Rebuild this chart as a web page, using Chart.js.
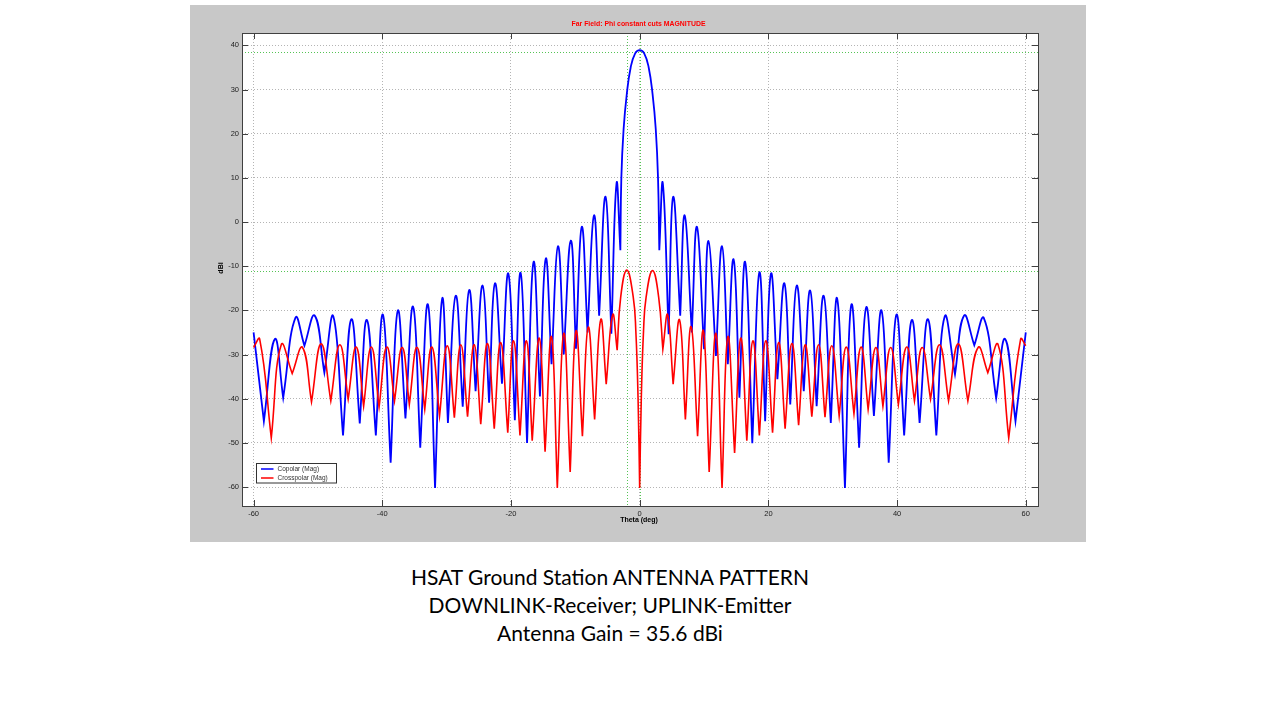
<!DOCTYPE html>
<html>
<head>
<meta charset="utf-8">
<script src="https://cdn.jsdelivr.net/npm/chart.js@4.4.1/dist/chart.umd.min.js"></script>
<style>
  html, body { margin: 0; padding: 0; background: #fff; width: 1280px; height: 720px; overflow: hidden; }
  #marco { position: absolute; left: 190px; top: 5px; width: 896px; height: 537px; background: #c8c8c8; }
  #grafico { display: block; }
  .leyenda { position: absolute; left: 310px; width: 600px; top: 563px; text-align: center;
             font-family: Lato, 'Open Sans', sans-serif; font-size: 21px; line-height: 28px; color: #000; }
</style>
</head>
<body>
<div id="marco"><canvas id="grafico" width="896" height="537"></canvas></div>
<div class="leyenda">HSAT Ground Station ANTENNA PATTERN<br>DOWNLINK-Receiver; UPLINK-Emitter<br>Antenna Gain = 35.6 dBi</div>
<script>
// Copolar: ángulos (deg) y ganancia (dBi) (picos y nulos)
const copTheta = [
  -60, -58.4, -56.7, -55.4, -53.5, -52.1, -50.5, -49.0, -47.6, -46.1,
  -44.8, -43.5, -42.4, -41.0, -39.9, -38.7, -37.6, -36.4, -35.2, -34.1,
  -32.9, -31.8, -30.7, -29.8, -28.6, -27.5, -26.5, -25.5, -24.4, -23.4,
  -22.5, -21.4, -20.4, -19.4, -18.5, -17.5, -16.5, -15.5, -14.6, -13.7,
  -12.7, -11.8, -10.7, -9.9, -9.0, -8.1, -7.1, -6.3, -5.3, -4.4,
  -3.6, -3.0, -2.85, -2.5, -2.0, -1.4, -0.7, 0, 0.7, 1.4,
  2.0, 2.5, 2.85, 3.05, 3.6, 4.5, 5.2, 6.3, 7.0, 8.1,
  8.9, 10.0, 10.7, 11.85, 12.8, 13.7, 14.6, 15.5, 16.4, 17.5,
  18.6, 19.5, 20.4, 21.4, 22.5, 23.4, 24.4, 25.5, 26.5, 27.5,
  28.6, 29.7, 30.7, 31.9, 32.9, 34.1, 35.2, 36.4, 37.6, 38.7,
  39.9, 41.1, 42.3, 43.5, 44.8, 46.1, 47.4, 49.0, 50.4, 52.0,
  53.5, 55.4, 56.8, 58.4, 60
];
const copGain = [
  -25.0, -45.1, -26.5, -39.8, -21.7, -28.0, -21.2, -34.1, -21.4, -48.3,
  -22.0, -45.6, -22.2, -48.3, -21.0, -54.5, -20.1, -44.5, -19.2, -51.1,
  -18.7, -60.2, -17.4, -45.5, -16.7, -41.8, -15.4, -38.3, -14.4, -40.9,
  -13.9, -36.6, -11.7, -44.9, -11.5, -50.0, -9.1, -39.5, -8.3, -32.2,
  -5.5, -30.0, -4.2, -28.7, -1.1, -25.0, 1.5, -21.2, 5.7, -25.3,
  8.7, -6.4, 10.0, 21.0, 29.0, 35.0, 38.2, 38.9, 38.2, 35.0,
  29.0, 21.0, 10.0, -6.4, 8.7, -25.4, 5.7, -21.2, 1.5, -25.0,
  -1.1, -28.8, -4.3, -30.3, -5.5, -32.2, -8.5, -39.8, -9.1, -50.1,
  -11.4, -45.1, -11.7, -35.6, -13.9, -41.3, -14.4, -38.3, -15.5, -41.7,
  -16.7, -45.5, -17.4, -60.2, -18.7, -51.1, -19.3, -43.9, -20.1, -54.5,
  -21.0, -48.3, -22.2, -45.5, -22.0, -48.3, -21.4, -34.5, -21.2, -27.9,
  -21.8, -39.9, -26.5, -45.1, -25.0
];

// Crosspolar
const xpolTheta = [
  -60, -59.05, -57.25, -55.7, -54.0, -52.4, -51.0, -49.5, -48.0, -46.6,
  -45.3, -44.05, -42.9, -41.7, -40.5, -39.3, -38.1, -36.9, -35.8, -34.6,
  -33.4, -32.3, -31.1, -29.9, -28.8, -27.8, -26.75, -25.7, -24.7, -23.65,
  -22.6, -21.6, -20.5, -19.6, -18.6, -17.6, -16.7, -15.6, -14.7, -13.7,
  -12.8, -11.8, -10.8, -9.9, -8.9, -8.0, -7.0, -6.05, -5.2, -4.2,
  -3.5, -2.95, -2.0, -1.0, -0.6, -0.25, 0, 0.25, 0.6, 1.0,
  2.0, 2.95, 3.6, 4.35, 5.2, 6.2, 7.1, 8.0, 9.0, 9.9,
  10.8, 11.85, 12.8, 13.7, 14.75, 15.7, 16.65, 17.6, 18.6, 19.6,
  20.65, 21.6, 22.6, 23.65, 24.7, 25.7, 26.75, 27.8, 28.8, 29.85,
  31.0, 32.1, 33.3, 34.4, 35.5, 36.7, 37.8, 39.0, 40.2, 41.5,
  42.7, 43.9, 45.2, 46.6, 48.0, 49.5, 51.0, 52.6, 54.1, 55.7,
  57.35, 59.2, 60
];
const xpolGain = [
  -28.4, -26.5, -48.9, -27.8, -34.3, -28.4, -40.7, -27.6, -40.5, -27.8,
  -40.1, -28.3, -41.7, -28.3, -41.9, -28.3, -40.5, -28.4, -41.3, -28.4,
  -42.4, -28.3, -43.9, -28.0, -44.3, -27.8, -44.1, -27.8, -45.8, -27.5,
  -46.8, -27.3, -47.7, -26.9, -48.3, -26.9, -49.5, -26.3, -52.0, -26.0,
  -60.2, -25.2, -56.6, -24.7, -48.5, -23.8, -44.7, -22.1, -36.7, -21.0,
  -29.0, -17.0, -10.9, -17.0, -24.6, -40.0, -60.2, -40.0, -24.6, -17.0,
  -11.0, -17.0, -28.8, -21.0, -36.7, -22.2, -44.7, -23.7, -48.5, -24.6,
  -56.6, -25.2, -60.2, -26.0, -52.3, -26.3, -49.5, -26.9, -48.3, -26.9,
  -47.7, -27.3, -46.8, -27.5, -46.0, -27.8, -44.1, -27.8, -44.2, -28.0,
  -43.9, -28.3, -43.4, -28.3, -42.4, -28.4, -41.7, -28.4, -41.3, -28.3,
  -40.5, -28.4, -40.1, -27.8, -40.5, -27.6, -40.5, -28.4, -34.1, -27.8,
  -48.9, -26.5, -28.0
];

const ticksTheta = [-60, -40, -20, 0, 20, 40, 60];
const ticksGain = [-60, -50, -40, -30, -20, -10, 0, 10, 20, 30, 40];
// líneas verdes de marcadores
const marcaGain = [38.5, -11];
const marcaTheta = [-1.9, 0];

const titulo = 'Far Field: Phi constant cuts MAGNITUDE';
const nombres = ['Copolar (Mag)', 'Crosspolar (Mag)'];

// los nulos se repiten para que la curva termine en punta y no redondeada
function armarPuntos(thetas, ganancias) {
    const puntos = [];
    thetas.forEach((t, i) => {
        puntos.push({ x: t, y: ganancias[i] });
        const antes = ganancias[i - 1];
        const despues = ganancias[i + 1];
        if (antes !== undefined && despues !== undefined && ganancias[i] < antes && ganancias[i] < despues) {
            puntos.push({ x: t, y: ganancias[i] });
        }
    });
    return puntos;
}

const estiloMatlab = {
    id: 'estiloMatlab',
    beforeDraw(chart) {
        const { ctx, chartArea: a } = chart;
        ctx.save();
        ctx.fillStyle = '#ffffff';
        ctx.fillRect(a.left, a.top, a.right - a.left, a.bottom - a.top);
        ctx.restore();
    },
    beforeDatasetsDraw(chart) {
        const { ctx, chartArea: a, scales: { x, y } } = chart;
        ctx.save();
        ctx.strokeStyle = '#55c455';
        ctx.lineWidth = 1;
        ctx.setLineDash([1, 2]);
        marcaGain.forEach(v => {
            const py = Math.round(y.getPixelForValue(v)) + 0.5;
            ctx.beginPath(); ctx.moveTo(a.left, py); ctx.lineTo(a.right, py); ctx.stroke();
        });
        marcaTheta.forEach(v => {
            const px = Math.round(x.getPixelForValue(v)) + 0.5;
            ctx.beginPath(); ctx.moveTo(px, a.top); ctx.lineTo(px, a.bottom); ctx.stroke();
        });
        ctx.restore();
    },
    afterDraw(chart) {
        const { ctx, chartArea: a, scales: { x, y } } = chart;
        ctx.save();
        // marco de los ejes
        ctx.strokeStyle = '#404040';
        ctx.lineWidth = 1;
        ctx.strokeRect(Math.round(a.left) + 0.5, Math.round(a.top) + 0.5, Math.round(a.right - a.left), Math.round(a.bottom - a.top));
        // marcas hacia adentro
        ticksTheta.forEach(v => {
            const px = Math.round(x.getPixelForValue(v)) + 0.5;
            ctx.beginPath();
            ctx.moveTo(px, a.top); ctx.lineTo(px, a.top + 6);
            ctx.moveTo(px, a.bottom); ctx.lineTo(px, a.bottom - 6);
            ctx.stroke();
        });
        ticksGain.forEach(v => {
            const py = Math.round(y.getPixelForValue(v)) + 0.5;
            ctx.beginPath();
            ctx.moveTo(a.left, py); ctx.lineTo(a.left + 6, py);
            ctx.moveTo(a.right, py); ctx.lineTo(a.right - 6, py);
            ctx.stroke();
        });

        // título
        ctx.fillStyle = '#ff0000';
        ctx.font = 'bold 6.9px "Liberation Sans", Arial, sans-serif';
        ctx.textAlign = 'center';
        ctx.textBaseline = 'middle';
        ctx.fillText(titulo, 448.5, 19);

        // etiquetas de ejes
        ctx.fillStyle = '#000000';
        ctx.font = 'bold 7px "Liberation Sans", Arial, sans-serif';
        ctx.fillText('Theta (deg)', 449, 515);
        ctx.save();
        ctx.translate(31.5, 263);
        ctx.rotate(-Math.PI / 2);
        ctx.fillText('dBi', 0, 0);
        ctx.restore();

        // leyenda
        const lx = a.left + 14.5, ly = a.bottom - 42.5;
        ctx.fillStyle = '#ffffff';
        ctx.fillRect(lx, ly, 80, 19.5);
        ctx.strokeStyle = '#333333';
        ctx.strokeRect(lx, ly, 80, 19.5);
        const colores = ['#0000ff', '#ff0000'];
        ctx.font = '6.5px "Liberation Sans", Arial, sans-serif';
        ctx.textAlign = 'left';
        nombres.forEach((n, i) => {
            const fy = ly + 5.5 + i * 9;
            ctx.strokeStyle = colores[i];
            ctx.lineWidth = 1.5;
            ctx.beginPath(); ctx.moveTo(lx + 4.5, fy); ctx.lineTo(lx + 17, fy); ctx.stroke();
            ctx.fillStyle = '#333333';
            ctx.fillText(n, lx + 21, fy);
        });
        ctx.restore();
    }
};

const fuenteTicks = { family: '"Liberation Sans", Arial, sans-serif', size: 7.5 };

const ctx = document.getElementById('grafico').getContext('2d');
const myChart = new Chart(ctx, {
    type: 'line',
    data: {
        datasets: [
            {
                label: nombres[0],
                data: armarPuntos(copTheta, copGain),
                borderColor: '#0000ff',
                borderWidth: 1.8,
                pointRadius: 0,
                tension: 0.45,
                fill: false,
                order: 1
            },
            {
                label: nombres[1],
                data: armarPuntos(xpolTheta, xpolGain),
                borderColor: '#ff0000',
                borderWidth: 1.6,
                pointRadius: 0,
                tension: 0.45,
                fill: false,
                order: 0
            }
        ]
    },
    options: {
        responsive: false,
        animation: false,
        layout: { padding: { top: 28, right: 48, bottom: 0, left: 0 } },
        plugins: { legend: { display: false }, tooltip: { enabled: false } },
        scales: {
            x: {
                type: 'linear',
                min: -61.8,
                max: 61.9,
                afterFit: s => { s.height = 36; },
                afterBuildTicks: s => { s.ticks = ticksTheta.map(v => ({ value: v })); },
                grid: { color: '#b4b4b4', drawTicks: false },
                border: { display: false, dash: [1, 2] },
                ticks: { font: fuenteTicks, color: '#222', padding: 3, maxRotation: 0 }
            },
            y: {
                min: -64.3,
                max: 42.8,
                afterFit: s => { s.width = 52; },
                afterBuildTicks: s => { s.ticks = ticksGain.map(v => ({ value: v })); },
                grid: { color: '#b4b4b4', drawTicks: false },
                border: { display: false, dash: [1, 2] },
                ticks: { font: fuenteTicks, color: '#222', padding: 3 }
            }
        }
    },
    plugins: [estiloMatlab]
});
</script>
</body>
</html>
